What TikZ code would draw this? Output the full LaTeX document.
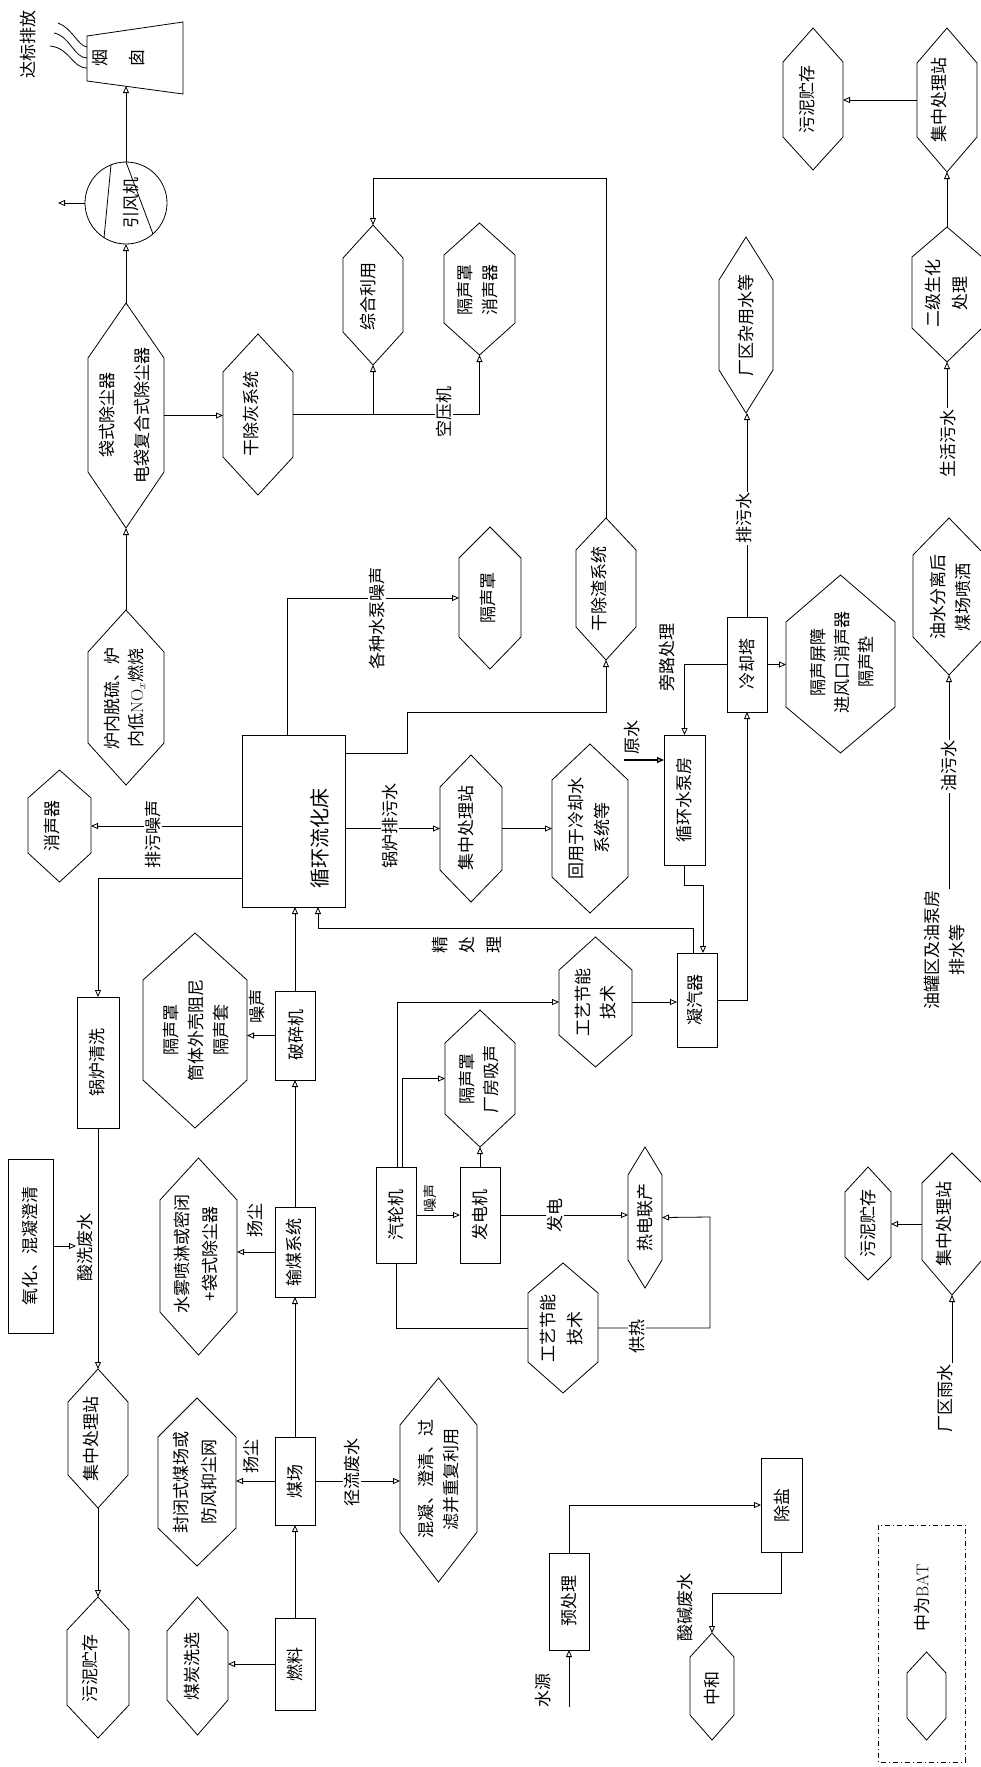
\documentclass[tikz,border=0pt]{standalone}
\usepackage{fontspec}
\newfontfamily\cjk{Noto Sans CJK SC}
\usetikzlibrary{arrows.meta,calc}
\tikzset{
  base/.style={font=\cjk\fontsize{17}{25}\selectfont, inner sep=1pt},
  tx/.style={base, rotate=90, align=center},
  lb/.style={fill=white, inner sep=1pt},
  shp/.style={line width=0.8pt},
  arr/.style={line width=0.8pt, -{Triangle[open,length=7pt,width=6pt]}},
  boxs/.style={draw, line width=0.8pt, inner sep=0pt, outer sep=0pt},
  ghost/.style={inner sep=0pt, outer sep=0pt}
}
\newcommand\mkhex[7]{%
  \draw[shp] ({(#2+#3)/2},#4) -- (#3,#5) -- (#3,#6) -- ({(#2+#3)/2},#7) -- (#2,#6) -- (#2,#5) -- cycle;
  \node[ghost, minimum width={(#3-#2)*1pt}, minimum height={(#7-#4)*1pt}] (#1) at ({(#2+#3)/2},{(#4+#7)/2}) {};}
\newcommand\mkbox[5]{%
  \node[boxs, minimum width={(#3-#2)*1pt}, minimum height={(#5-#4)*1pt}] (#1) at ({(#2+#3)/2},{(#4+#5)/2}) {};}
\newcommand\mktext[4][]{\node[tx,#1] (#2) at (#3) {#4};}
\begin{document}
\begin{tikzpicture}[x=1pt,y=-1pt]
\fill[white] (0,0) rectangle (980,1767);
\useasboundingbox (0,0) rectangle (980,1767);

% chimney
\draw[shp] (87,36) -- (183,22) -- (183,94) -- (87,81) -- cycle;
\node[ghost, minimum width=96pt, minimum height=72pt] (yc) at (135,58) {};
\coordinate (ycb) at (126,86);
\mktext[font=\cjk\fontsize{17}{37}\selectfont]{tyc}{119,58}{烟\\囱}
\draw[shp] (87,68) .. controls (72,68) and (70,48) .. (50,46);
\draw[shp] (87,58) .. controls (74,58) and (70,36) .. (54,33);
\draw[shp] (87,47) .. controls (78,46) and (72,28) .. (58,23);
\mktext{tdb}{28,44}{达标排放}

% fan
\node[draw, shp, circle, minimum size=82pt, inner sep=0pt, outer sep=0pt] (fan) at (126,203) {};
\draw[shp] (111,165) -- (104,238);
\draw[shp] (126,162) -- (153,234);
\mktext{tfan}{131,203}{引风机}
\coordinate (fanout) at (58,203);
\draw[arr] (fan.west) -- (fanout);
\draw[arr] (fan.north) -- (ycb);

% bag filter
\mkhex{dsc}{88}{164}{303}{358}{472}{528}
\mktext[font=\cjk\fontsize{17}{35}\selectfont]{tdsc}{124,415}{袋式除尘器\\电袋复合式除尘器}
\draw[arr] (dsc.north) -- (fan.south);

% desulf
\mkhex{lnt}{88}{164}{610}{652}{743}{785}
\mktext[font=\cjk\fontsize{17}{24}\selectfont]{tlnt}{125,698}{炉内脱硫、炉\\内低{\normalfont NO$_x$}燃烧}
\draw[arr] (lnt.north) -- (dsc.south);

% dry ash
\mkhex{ghh}{223}{293}{334}{372}{457}{495}
\mktext{tghh}{251,414}{干除灰系统}
\draw[arr] (dsc.east) -- (dsc.east -| ghh.west);

\mkhex{zhly}{343}{403}{225}{258}{332}{365}
\mktext{tzhly}{368,296}{综合利用}
\mkhex{gx1}{444}{515}{223}{255}{323}{355}
\mktext{tgx1}{478,290}{隔声罩\\消声器}
\draw[arr] (ghh.east) -| (zhly.south);
\draw[arr] (ghh.east) -| (gx1.south);
\mktext[lb]{tkyj}{444,412}{空压机}

% silencer
\mkhex{xsq}{28}{91}{770}{798}{853}{882}
\mktext{txsq}{52,826}{消声器}

% CFB boiler
\mkbox{xhl}{242}{345}{735}{907}
\mktext[font=\cjk\fontsize{20}{24}\selectfont]{txhl}{320,838}{循环流化床}
\draw[arr] (xhl.west |- xsq.east) -- (xsq.east);
\mktext[lb]{tpwzs}{153,834}{排污噪声}

% boiler cleaning
\mkbox{glqx}{77}{119}{997}{1128}
\mktext{tglqx}{97,1062}{锅炉清洗}
\draw[arr] (xhl.west |- 0,878) -| (glqx.north);
\mkhex{jz0}{68}{128}{1369}{1402}{1475}{1508}
\mktext{tjz0}{91,1439}{集中处理站}
\draw[arr] (glqx.south) -- (jz0.north);
\mktext{tsxfs}{85,1247}{酸洗废水}
\mkbox{yhh}{8}{53}{1159}{1333}
\mktext{tyhh}{30,1246}{氧化、混凝澄清}
\coordinate (sxin) at (76,1246);
\draw[arr] (yhh.east |- sxin) -- (sxin);
\mkhex{wn0}{67}{129}{1597}{1630}{1705}{1738}
\mktext{twn0}{90,1668}{污泥贮存}
\draw[arr] (jz0.south) -- (wn0.north);

% fuel
\mkbox{rl}{275}{315}{1618}{1710}
\mktext{trl}{295,1664}{燃料}
\mkhex{mt}{167}{228}{1597}{1631}{1700}{1735}
\mktext{tmt}{192,1666}{煤炭洗选}
\draw[arr] (rl.west) -- (rl.west -| mt.east);
\mkbox{mc}{275}{315}{1437}{1525}
\mktext{tmc}{295,1481}{煤场}
\draw[arr] (rl.north) -- (mc.south);
\mkhex{fb}{158}{236}{1398}{1437}{1528}{1566}
\mktext[font=\cjk\fontsize{17}{28}\selectfont]{tfb}{195,1482}{封闭式煤场或\\防风抑尘网}
\draw[arr] (mc.west) -- (mc.west -| fb.east);
\mktext{tyca}{251,1456}{扬尘}
\mkhex{hn}{400}{477}{1378}{1425}{1532}{1582}
\mktext{thn}{439,1479}{混凝、澄清、过\\滤并重复利用}
\draw[arr] (mc.east) -- (mc.east -| hn.west);
\mktext[lb]{tjl}{352,1472}{径流废水}

% coal conveying
\mkbox{ss}{275}{315}{1207}{1297}
\mktext{tss}{294,1252}{输煤系统}
\draw[arr] (mc.north) -- (ss.south);
\mkhex{sw}{160}{237}{1158}{1200}{1312}{1355}
\mktext[font=\cjk\fontsize{17}{28}\selectfont]{tsw}{196,1254}{水雾喷淋或密闭\\+袋式除尘器}
\draw[arr] (ss.west) -- (ss.west -| sw.east);
\mktext{tycb}{255,1220}{扬尘}

% crusher
\mkbox{ps}{275}{315}{991}{1080}
\mktext{tps}{296,1035}{破碎机}
\draw[arr] (ss.north) -- (ps.south);
\mkhex{gs3}{143}{247}{933}{980}{1080}{1128}
\mktext{tgs3}{196,1030}{隔声罩\\筒体外壳阻尼\\隔声套}
\draw[arr] (ps.west) -- (ps.west -| gs3.east);
\mktext{tzsa}{257,1006}{噪声}
\draw[arr] (ps.north) -- (ps.north |- xhl.south);

% pump noise
\mkhex{gs2}{459}{521}{527}{558}{637}{669}
\mktext{tgs2}{488,598}{隔声罩}
\draw[arr] ([xshift=-6pt]xhl.north) |- (gs2.west);
\mktext[lb]{tgzsb}{377,618}{各种水泵噪声}

% dry slag
\mkhex{gzz}{576}{636}{518}{550}{627}{660}
\mktext{tgzz}{599,589}{干除渣系统}
\draw[arr] (xhl.east |- 0,753) -| (407,712) -| (gzz.south);
\draw[arr] (gzz.north) |- (zhly.north |- 0,178) -- (zhly.north);

% blowdown
\mkhex{jz1}{440}{502}{755}{787}{870}{902}
\mktext{tjz1}{466,828}{集中处理站}
\draw[arr] (xhl.east |- jz1.west) -- (jz1.west);
\mktext[lb]{tglpw}{390,826}{锅炉排污水}
\mkhex{hy}{552}{628}{744}{780}{877}{913}
\mktext[font=\cjk\fontsize{17}{26}\selectfont]{thy}{589,828}{回用于冷却水\\系统等}
\draw[arr] (jz1.east) -- (jz1.east -| hy.west);

% turbine
\mkbox{qlj}{376}{416}{1167}{1263}
\mktext{tqlj}{396,1215}{汽轮机}
\mkbox{fdj}{460}{500}{1167}{1263}
\mktext{tfdj}{480,1215}{发电机}
\draw[arr] (qlj.east) -- (fdj.west);
\mktext[font=\cjk\fontsize{14}{16}\selectfont]{tzsb}{430,1198}{噪声}
\mkhex{gs4}{445}{515}{1010}{1043}{1114}{1147}
\mktext[font=\cjk\fontsize{17}{24}\selectfont]{tgs4}{479,1079}{隔声罩\\厂房吸声}
\draw[arr] (fdj.north) -- (gs4.south);
\draw[arr] ([xshift=6pt]qlj.north) |- (gs4.west);
\mkhex{gy1}{559}{632}{937}{970}{1035}{1067}
\mktext{tgy1}{596,1002}{工艺节能\\技术}
\draw[arr] ([xshift=1pt]qlj.north) |- (gy1.west);
\mkbox{ngq}{677}{717}{953}{1047}
\mktext{tngq}{695,1000}{凝汽器}
\draw[arr] (gy1.east) -- (gy1.east -| ngq.west);
\draw[arr] ([xshift=-4pt]ngq.north) |- (318,928) -- (xhl.south -| 318,0);
\mktext[font=\cjk\fontsize{17}{27}\selectfont]{tjcl}{467,945}{精\\处\\理}

% CHP
\mkhex{rd}{628}{662}{1147}{1175}{1260}{1288}
\mktext{trd}{645,1217}{热电联产}
\draw[arr] (fdj.east) -- (fdj.east -| rd.west);
\mktext[lb]{tfd}{555,1215}{发电}
\mkhex{gy2}{528}{598}{1263}{1293}{1362}{1393}
\mktext[font=\cjk\fontsize{17}{27}\selectfont]{tgy2}{562,1328}{工艺节能\\技术}
\draw[shp] (qlj.south) |- (gy2.west);
\draw[arr] (gy2.east) -| (710,1217) -- (rd.east);
\mktext[lb]{tgr}{637,1336}{供热}

% circulating water
\mkbox{xh}{664}{705}{735}{865}
\mktext{txh}{684,800}{循环水泵房}
\mkbox{lqt}{727}{767}{617}{712}
\mktext{tlqt}{747,664}{冷却塔}
\draw[arr] (xh.south) |- (703,885) -- ([xshift=6pt]ngq.north);
\draw[arr] (ngq.east) -| (lqt.south);
\draw[arr] (lqt.west) -| (xh.north);
\mktext{tplcl}{667,657}{旁路处理}
\coordinate (ysin) at (624,760);
\draw[arr, line width=1.4pt] (ysin) -- (ysin -| xh.west);
\mktext{tys}{632,737}{原水}
\mkhex{gp}{786}{895}{575}{622}{707}{753}
\mktext[font=\cjk\fontsize{17}{24}\selectfont]{tgp}{842,662}{隔声屏障\\进风口消声器\\隔声垫}
\draw[arr] (lqt.east) -- (lqt.east -| gp.west);
\mkhex{cz}{719}{773}{237}{280}{370}{413}
\mktext{tcz}{746,325}{厂区杂用水等}
\draw[arr] (lqt.north) -- (lqt.north |- cz.south);
\mktext[lb]{tpws}{744,518}{排污水}

% domestic sewage
\mkhex{wn1}{783}{843}{28}{62}{137}{170}
\mktext{twn1}{807,99}{污泥贮存}
\mkhex{jz2}{917}{977}{28}{63}{137}{172}
\mktext{tjz2}{939,100}{集中处理站}
\draw[arr] (jz2.west) -- (jz2.west -| wn1.east);
\mkhex{ej}{912}{982}{227}{257}{328}{362}
\mktext[font=\cjk\fontsize{17}{27}\selectfont]{tej}{947,293}{二级生化\\处理}
\draw[arr] (ej.north) -- (ej.north |- jz2.south);
\mktext{tshws}{948,443}{生活污水}
\draw[arr] (tshws.east -| ej.south) -- (ej.south);

% oily water
\mkhex{ysh}{913}{985}{518}{555}{637}{675}
\mktext{tysh}{950,597}{油水分离后\\煤场喷洒}
\mktext{tyg}{945,950}{油罐区及油泵房\\排水等}
\draw[arr] (tyg.east -| ysh.south) -- (ysh.south);
\mktext[lb]{tyws}{949,766}{油污水}

% rain water
\mkhex{wn2}{845}{891}{1167}{1192}{1257}{1280}
\mktext{twn2}{868,1223}{污泥贮存}
\mkhex{jz3}{922}{982}{1153}{1183}{1260}{1295}
\mktext{tjz3}{944,1224}{集中处理站}
\draw[arr] (jz3.west) -- (jz3.west -| wn2.east);
\mktext{tcqys}{945,1398}{厂区雨水}
\draw[arr] (tcqys.east -| jz3.south) -- (jz3.south);

% make-up water
\mkbox{ycl}{549}{589}{1553}{1650}
\mktext{tycl}{569,1601}{预处理}
\coordinate (syin) at (569,1707);
\draw[arr] (syin) -- (ycl.south);
\mktext{tsy}{543,1690}{水源}
\mkbox{cyan}{761}{802}{1458}{1552}
\mktext{tcyan}{782,1505}{除盐}
\draw[arr] (ycl.north) |- (cyan.west);
\mkhex{zh}{690}{734}{1633}{1657}{1715}{1740}
\mktext{tzh}{712,1688}{中和}
\draw[arr] (cyan.south) |- (zh.north |- 0,1593) -- (zh.north);
\mktext{tsjfs}{685,1607}{酸碱废水}

% legend
\draw[shp, dash pattern=on 5pt off 3pt on 1pt off 3pt] (878,1525) rectangle (965,1762);
\mktext{tbat}{922,1598}{中为{\normalfont BAT}}
\mkhex{lg}{907}{946}{1652}{1673}{1718}{1740}
\end{tikzpicture}
\end{document}
